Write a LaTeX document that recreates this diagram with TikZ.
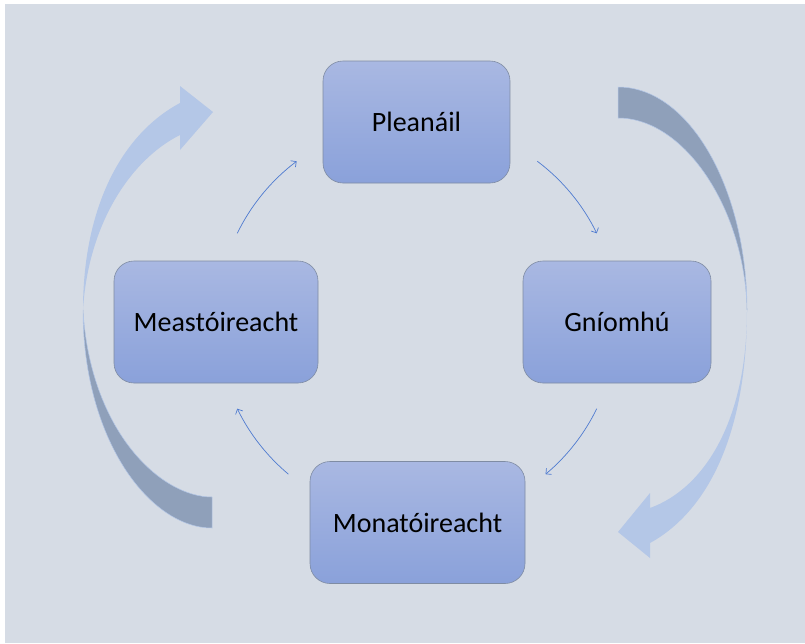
\documentclass[tikz,border=0pt]{standalone}
\usepackage{fontspec}
\setmainfont{Carlito}
\usetikzlibrary{arrows.meta}

\definecolor{pagebg}{HTML}{D6DCE5}
\definecolor{boxtop}{HTML}{A9B8E2}
\definecolor{boxbot}{HTML}{8AA1DA}
\definecolor{boxline}{HTML}{7F8CA3}
\definecolor{flowline}{HTML}{4F7BD0}
\definecolor{ribbondark}{HTML}{8FA0BA}
\definecolor{ribbonlight}{HTML}{B4C7E7}

\tikzset{
  stage/.style={rounded corners=20pt, draw=boxline, line width=0.6pt,
    top color=boxtop, bottom color=boxbot, minimum height=122pt,
    inner sep=0pt, text=black, font=\fontsize{28}{34}\selectfont},
  flow/.style={draw=flowline, line width=0.7pt,
    -{Straight Barb[length=4pt,width=8pt,line width=0.7pt]}},
  ribbonback/.style={fill=ribbondark, draw=ribbonlight, line width=0.5pt},
  ribbonfront/.style={fill=ribbonlight, draw=none}
}

\begin{document}
\begin{tikzpicture}[x=1pt,y=-1pt]
  \useasboundingbox (0,0) rectangle (805,643);
  \fill[white] (0,0) rectangle (805,643);
  \fill[pagebg] (5,4) rectangle (805,643);

  % large ribbon arrow on the right (top to bottom)
  \path[ribbonback] (618,87) .. controls (690,87) and (747,190) .. (747,310)
    .. controls (745,210) and (685,118) .. (618,118) -- cycle;
  \path[ribbonfront] (747,310) .. controls (747,430) and (710,510) .. (650,543)
    -- (650,558) -- (618,532) -- (650,493) -- (650,508)
    .. controls (705,488) and (747,420) .. (747,310) -- cycle;

  % large ribbon arrow on the left (bottom to top)
  \path[ribbonback] (83,310) .. controls (83,440) and (150,528) .. (212,528)
    -- (212,497) .. controls (160,497) and (90,430) .. (83,310) -- cycle;
  \path[ribbonfront] (180,103) .. controls (120,135) and (83,210) .. (83,310)
    .. controls (88,225) and (130,160) .. (180,135)
    -- (180,150) -- (213,112) -- (180,86) -- cycle;

  % the four stages
  \node[stage, minimum width=187pt] (plan)  at (416.5,122) {Pleanáil};
  \node[stage, minimum width=188pt] (act)   at (617,322)   {Gníomhú};
  \node[stage, minimum width=215pt] (mon)   at (417.5,522.5) {Monatóireacht};
  \node[stage, minimum width=204pt] (eval)  at (216,322)   {Meastóireacht};

  % thin cycle arrows on a common circle
  \coordinate (hub) at (417,321);
  \draw[flow] ([shift={(-53:200)}]hub) arc[start angle=-53, end angle=-26, radius=200];
  \draw[flow] ([shift={(26:200)}]hub) arc[start angle=26, end angle=50, radius=200];
  \draw[flow] ([shift={(130:200)}]hub) arc[start angle=130, end angle=154, radius=200];
  \draw[flow] ([shift={(-154:200)}]hub) arc[start angle=-154, end angle=-127, radius=200];
\end{tikzpicture}
\end{document}
